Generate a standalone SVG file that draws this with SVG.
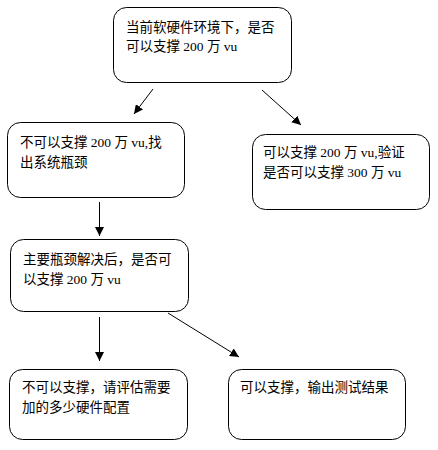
<svg xmlns="http://www.w3.org/2000/svg" width="438" height="450" viewBox="0 0 438 450">
<style>
.box{fill:#fff;stroke:#000;stroke-width:1}
.t{font-family:"Liberation Serif","Noto Sans CJK SC",serif;font-size:13.5px;fill:#000}
.c{stroke:#000;stroke-width:1;fill:none;marker-end:url(#ah)}
</style>
<defs>
<marker id="ah" viewBox="0 0 10 10" refX="10" refY="5" markerWidth="9" markerHeight="9" markerUnits="userSpaceOnUse" orient="auto">
<path d="M0,0 L10,5 L0,10 z" fill="#000"/>
</marker>
</defs>
<rect width="438" height="450" fill="#fff"/>
<g id="n1"><rect class="box" x="113.5" y="7.5" width="178" height="75" rx="13"/>
<text class="t" x="126" y="32">当前软硬件环境下，是否</text>
<text class="t" x="126" y="51">可以支撑 200 万 vu</text></g>
<g id="n2"><rect class="box" x="7.5" y="122.5" width="177" height="75" rx="13"/>
<text class="t" x="20" y="147">不可以支撑 200 万 vu,找</text>
<text class="t" x="20" y="167">出系统瓶颈</text></g>
<g id="n3"><rect class="box" x="252.5" y="134.5" width="177" height="75" rx="13"/>
<text class="t" x="263" y="157">可以支撑 200 万 vu,验证</text>
<text class="t" x="263" y="177">是否可以支撑 300 万 vu</text></g>
<g id="n4"><rect class="box" x="10.5" y="239.5" width="178" height="72" rx="13"/>
<text class="t" x="23" y="264">主要瓶颈解决后，是否可</text>
<text class="t" x="23" y="284">以支撑 200 万 vu</text></g>
<g id="n5"><rect class="box" x="9.5" y="369.5" width="178" height="70" rx="13"/>
<text class="t" x="22" y="392">不可以支撑，请评估需要</text>
<text class="t" x="22" y="412">加的多少硬件配置</text></g>
<g id="n6"><rect class="box" x="228.5" y="369.5" width="177" height="70" rx="13"/>
<text class="t" x="240" y="392">可以支撑，输出测试结果</text></g>
<g id="connectors">
<line class="c" x1="153" y1="89" x2="134" y2="114"/>
<line class="c" x1="262" y1="90" x2="301" y2="125"/>
<line class="c" x1="99.5" y1="202" x2="99.5" y2="236"/>
<line class="c" x1="99.5" y1="317" x2="99.5" y2="361"/>
<line class="c" x1="168" y1="313" x2="239" y2="357"/>
</g>
</svg>
